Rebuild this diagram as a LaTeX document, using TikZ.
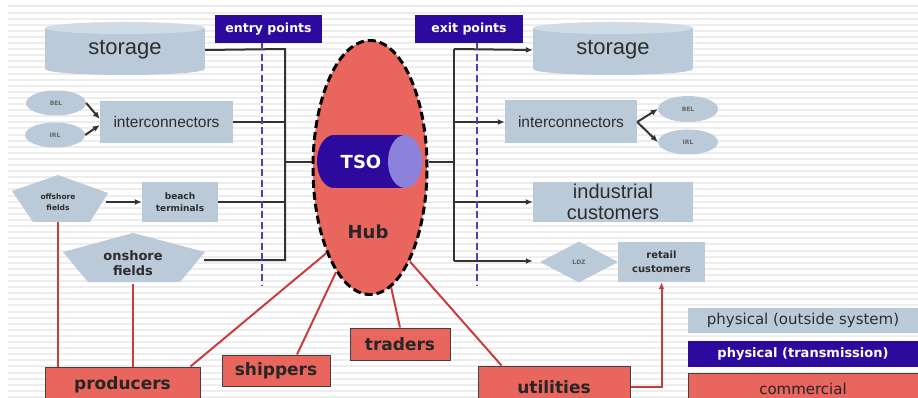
\documentclass[tikz,border=0pt]{standalone}
\usepackage{fontspec}
\setmainfont{Liberation Sans}
\newfontfamily\verd{DejaVu Sans}
\usetikzlibrary{shapes.geometric,arrows.meta}

\definecolor{physgrey}{RGB}{187,202,216}
\definecolor{phystop}{RGB}{207,219,229}
\definecolor{tsoblue}{RGB}{44,10,158}
\definecolor{tsoend}{RGB}{140,130,220}
\definecolor{commred}{RGB}{232,102,94}
\definecolor{commdark}{RGB}{200,62,62}
\definecolor{gatecol}{RGB}{80,64,180}
\definecolor{textgrey}{RGB}{45,45,45}

\begin{document}
\begin{tikzpicture}[x=1pt, y=-1pt,
	stripe/.style={black!7, line width=2pt},
	physbox/.style={fill=physgrey, text=textgrey, inner sep=0pt, align=center},
	transbox/.style={fill=tsoblue, text=white, inner sep=0pt,
		font=\verd\bfseries\fontsize{12.5}{14}\selectfont},
	commbox/.style={fill=commred, draw=black!75, line width=1pt, inner sep=0pt,
		text=black!85, font=\verd\bfseries\fontsize{17}{19}\selectfont},
	trunk/.style={line width=2pt, black!80},
	flow/.style={trunk, -{Latex[length=7pt,width=6pt]}},
	gate/.style={gatecol, line width=2.5pt, dash pattern=on 7pt off 3.5pt},
	commline/.style={commdark, line width=2pt},
	tiny/.style={font=\verd\bfseries\fontsize{6}{7}\selectfont, text=black!60}
]
\useasboundingbox (0,0) rectangle (918,398);
\clip (0,0) rectangle (918,398);

% slide background
\foreach \y in {6.5,12.6,...,398}
	\draw[stripe] (8,\y) -- (918,\y);

% storage cylinders
\foreach \cx in {125,613}{
	\fill[physgrey] (\cx-80,28) rectangle (\cx+80,69);
	\fill[physgrey] (\cx,69) ellipse [x radius=80, y radius=6];
	\fill[phystop] (\cx,28) ellipse [x radius=80, y radius=6];
}
\node[physbox, fill=none, minimum width=160, minimum height=30,
	font=\fontsize{22}{24}\selectfont] (storageL) at (125,50) {storage};
\node[physbox, fill=none, minimum width=160, minimum height=30,
	font=\fontsize{22}{24}\selectfont] (storageR) at (613,50) {storage};

% field pentagons
\fill[physgrey] (12,191) -- (58,175) -- (108,193) -- (90,222) -- (33,222) -- cycle;
\fill[physgrey] (63,252) -- (133,233) -- (205,252) -- (180,282) -- (88,282) -- cycle;
\node[align=center, inner sep=0pt, minimum width=96, minimum height=40, text=textgrey,
	font=\verd\bfseries\fontsize{7.5}{11}\selectfont] (offshore) at (58,202) {offshore\\fields};
\node[align=center, inner sep=0pt, minimum width=142, minimum height=42, text=textgrey,
	font=\verd\bfseries\fontsize{13}{15}\selectfont] (onshore) at (133,263) {onshore\\fields};

% physical boxes, entry side
\node[physbox, ellipse, minimum width=60, minimum height=25, tiny] (belL) at (56,103) {BEL};
\node[physbox, ellipse, minimum width=60, minimum height=25, tiny] (irlL) at (55,135) {IRL};
\node[physbox, minimum width=133, minimum height=42,
	font=\fontsize{15.5}{17}\selectfont] (iconL) at (166.5,122) {interconnectors};
\node[physbox, minimum width=76, minimum height=40,
	font=\verd\bfseries\fontsize{9}{12}\selectfont] (beach) at (180,202) {beach\\terminals};

% physical boxes, exit side
\node[physbox, minimum width=132, minimum height=43,
	font=\fontsize{15.5}{17}\selectfont] (iconR) at (571,122) {interconnectors};
\node[physbox, ellipse, minimum width=60, minimum height=26, tiny] (belR) at (688,109) {BEL};
\node[physbox, ellipse, minimum width=60, minimum height=25, tiny] (irlR) at (688,142) {IRL};
\node[physbox, minimum width=160, minimum height=40,
	font=\fontsize{20}{21}\selectfont] (industrial) at (613,202) {industrial\\customers};
\node[physbox, diamond, aspect=1.9, minimum width=78, minimum height=41, tiny] (ldz) at (579,262) {LDZ};
\node[physbox, minimum width=87, minimum height=40,
	font=\verd\bfseries\fontsize{10}{14}\selectfont] (retail) at (661.5,262) {retail\\customers};

% entry and exit points
\node[transbox, minimum width=107, minimum height=28] (entryPts) at (268.5,29) {entry points};
\node[transbox, minimum width=108, minimum height=28] (exitPts) at (469,29) {exit points};

% hub with TSO
\node[ellipse, fill=commred, draw=black, line width=3pt, dash pattern=on 8pt off 4pt,
	minimum width=114, minimum height=254] (hub) at (370,167.5) {};
\fill[tsoblue] (334,135) rectangle (405,188);
\fill[tsoblue] (334,161.5) ellipse [x radius=17, y radius=26.5];
\fill[tsoend] (405,161.5) ellipse [x radius=17, y radius=26.5];
\node[text=white, font=\verd\bfseries\fontsize{18}{20}\selectfont] (tso) at (361,162) {TSO};
\node[text=black!85, font=\verd\bfseries\fontsize{18}{20}\selectfont] (hubTxt) at (368,232) {Hub};

% entry side lines
\coordinate (inTop) at (285,49);
\coordinate (inBot) at (285,260);
\draw[trunk] (storageL.east) -- (inTop) -- (inBot) -- (onshore.east |- inBot);
\draw[trunk] (iconL.east) -- (iconL.east -| inTop);
\draw[trunk] (beach.east) -- (beach.east -| inTop);
\draw[trunk] (tso -| inTop) -- (tso -| hub.west);
\draw[flow] (belL.east) -- ([yshift=3pt]iconL.west);
\draw[flow] (irlL.east) -- ([yshift=-3pt]iconL.west);
\draw[flow] (offshore.east) -- (beach.west);

% exit side lines
\coordinate (outTop) at (454,49);
\coordinate (outBot) at (454,261);
\draw[trunk] (outTop) -- (outBot);
\draw[trunk] (tso -| hub.east) -- (tso -| outTop);
\draw[flow] (outTop) -- (storageR.west);
\draw[flow] (outTop |- iconR.west) -- (iconR.west);
\draw[flow] (outTop |- industrial.west) -- (industrial.west);
\draw[flow, shorten >=7pt] (outBot) -- (outBot -| ldz.west);
\draw[flow] (iconR.east) -- (belR.west);
\draw[flow] (iconR.east) -- (irlR.west);

% dashed boundaries
\draw[gate] ([xshift=-6.5pt]entryPts.south) -- ++(0,242);
\draw[gate] ([xshift=8pt]exitPts.south) -- ++(0,242);

% commercial parties
\node[commbox, minimum width=155, minimum height=36] (producers) at (122.5,385) {producers};
\node[commbox, minimum width=108, minimum height=31] (shippers) at (276,370.5) {shippers};
\node[commbox, minimum width=100, minimum height=32] (traders) at (400,344) {traders};
\node[commbox, minimum width=152, minimum height=42] (utilities) at (554,387) {utilities};

\draw[commline] (offshore.south) -- (offshore.south |- producers.north);
\draw[commline] (onshore.south) -- (onshore.south |- producers.north);
\draw[commline] ([xshift=-10pt]producers.north east) -- (hub.243);
\draw[commline] ([xshift=21pt]shippers.north) -- (hub.252);
\draw[commline] (traders.north) -- (hub.280);
\draw[commline] ([xshift=24pt]utilities.north west) -- (hub.293);
\draw[commline, -{Latex[length=7pt,width=6pt]}] (utilities.east) -| (retail.south);

% legend
\node[physbox, minimum width=230, minimum height=25,
	font=\verd\fontsize{15}{17}\selectfont] (legOut) at (803,320.5) {physical (outside system)};
\node[transbox, minimum width=230, minimum height=26,
	font=\verd\bfseries\fontsize{13}{15}\selectfont] (legTrans) at (803,354) {physical (transmission)};
\node[commbox, minimum width=230, minimum height=32,
	font=\verd\fontsize{15}{17}\selectfont] (legComm) at (803,389) {commercial};
\end{tikzpicture}
\end{document}
